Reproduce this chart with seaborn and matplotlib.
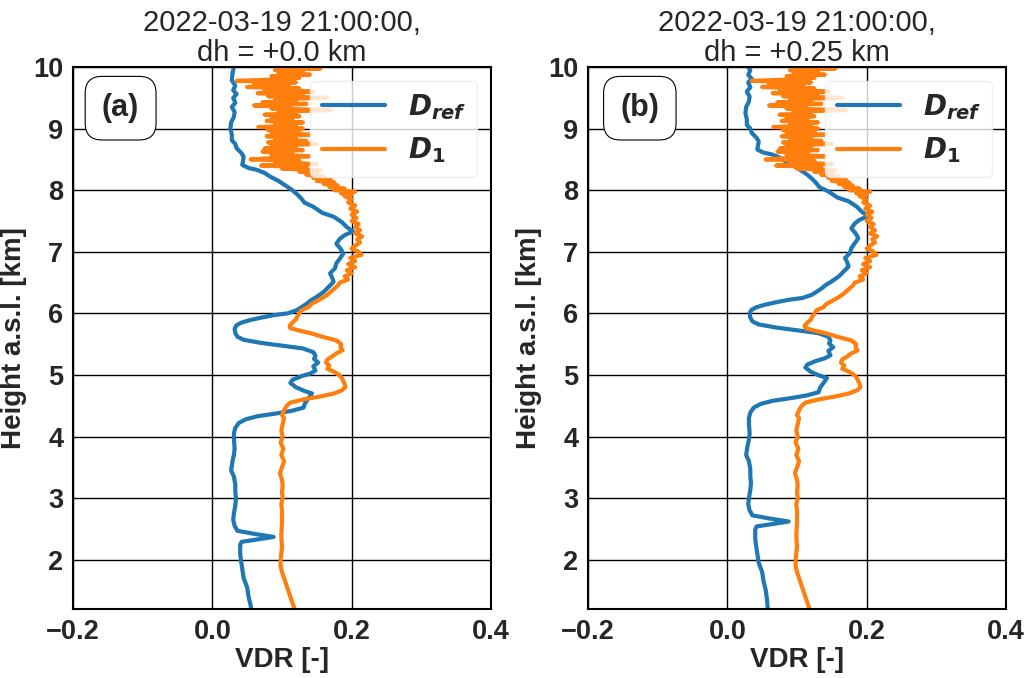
import matplotlib
matplotlib.use("Agg")
import matplotlib.pyplot as plt
import seaborn as sns
import pandas as pd

# reference profile D_ref, heights for dh = 0
dref_height = [10.0, 9.9, 9.78, 9.7, 9.62, 9.56, 9.5, 9.42, 9.35, 9.27, 9.19, 9.1, 9.0,
               8.9, 8.81, 8.75, 8.68, 8.6, 8.54, 8.47, 8.41, 8.36, 8.33, 8.28, 8.22, 8.15,
               8.06, 8.0, 7.93, 7.86, 7.8, 7.73, 7.63, 7.57, 7.48, 7.4, 7.33, 7.27, 7.21,
               7.13, 7.05, 6.97, 6.89, 6.81, 6.73, 6.65, 6.58, 6.51, 6.43, 6.35, 6.27,
               6.2, 6.16, 6.1, 6.05, 6.0, 5.97, 5.93, 5.89, 5.85, 5.81, 5.75, 5.68, 5.62,
               5.57, 5.52, 5.49, 5.43, 5.37, 5.31, 5.26, 5.2, 5.14, 5.07, 5.02, 4.98,
               4.92, 4.87, 4.8, 4.74, 4.7, 4.62, 4.54, 4.47, 4.42, 4.38, 4.33, 4.28,
               4.22, 4.14, 4.05, 3.97, 3.8, 3.7, 3.6, 3.45, 3.35, 3.22, 3.1, 3.0, 2.88,
               2.75, 2.65, 2.55, 2.47, 2.42, 2.37, 2.33, 2.29, 2.24, 2.1, 2.0, 1.85,
               1.7, 1.55, 1.4, 1.26, 1.1, 0.95]
dref_vdr = [0.031, 0.029, 0.028, 0.033, 0.030, 0.035, 0.030, 0.033, 0.028, 0.032, 0.031, 0.027, 0.026,
            0.028, 0.028, 0.033, 0.035, 0.042, 0.045, 0.044, 0.043, 0.052, 0.064, 0.075, 0.083, 0.095,
            0.107, 0.115, 0.122, 0.128, 0.132, 0.145, 0.158, 0.174, 0.186, 0.193, 0.202, 0.19, 0.183,
            0.178, 0.184, 0.188, 0.183, 0.178, 0.176, 0.169, 0.172, 0.174, 0.167, 0.16, 0.15,
            0.14, 0.136, 0.128, 0.121, 0.108, 0.088, 0.07, 0.054, 0.042, 0.035, 0.032, 0.033, 0.036,
            0.045, 0.07, 0.09, 0.13, 0.145, 0.148, 0.146, 0.152, 0.145, 0.148, 0.14, 0.128,
            0.115, 0.112, 0.12, 0.132, 0.143, 0.138, 0.133, 0.131, 0.115, 0.095, 0.065, 0.048,
            0.038, 0.033, 0.031, 0.031, 0.032, 0.031, 0.029, 0.027, 0.031, 0.033, 0.033, 0.034, 0.033,
            0.031, 0.030, 0.032, 0.036, 0.06, 0.088, 0.065, 0.042, 0.040, 0.040, 0.041, 0.043,
            0.045, 0.050, 0.052, 0.055, 0.057, 0.058]

# D_1 profile
d1_height = [10.0, 9.975, 9.95, 9.925, 9.9, 9.875, 9.85, 9.825, 9.8, 9.775, 9.75, 9.725, 9.7,
             9.675, 9.65, 9.625, 9.6, 9.575, 9.55, 9.525, 9.5, 9.475, 9.45, 9.425, 9.4,
             9.375, 9.35, 9.325, 9.3, 9.275, 9.25, 9.225, 9.2, 9.175, 9.15, 9.125, 9.1,
             9.075, 9.05, 9.025, 9.0, 8.975, 8.95, 8.925, 8.9, 8.875, 8.85, 8.825, 8.8,
             8.775, 8.75, 8.725, 8.7, 8.675, 8.65, 8.625, 8.6, 8.575, 8.55, 8.525, 8.5,
             8.475, 8.45, 8.425, 8.4, 8.375, 8.35, 8.325, 8.3, 8.275, 8.25, 8.225, 8.2,
             8.175, 8.15, 8.125, 8.1, 8.075, 8.05, 8.025, 8.0, 7.975, 7.95, 7.925, 7.9,
             7.85, 7.8, 7.75, 7.7, 7.65, 7.6, 7.55, 7.5, 7.45, 7.4, 7.35, 7.3, 7.25, 7.2,
             7.15, 7.1, 7.05, 7.0, 6.95, 6.9, 6.85, 6.8, 6.75, 6.7, 6.65, 6.6, 6.55, 6.5,
             6.45, 6.4, 6.35, 6.3, 6.25, 6.2, 6.15, 6.1, 6.05, 6.0, 5.95, 5.9, 5.85, 5.8,
             5.76, 5.72, 5.68, 5.62, 5.56, 5.5, 5.45, 5.4, 5.35, 5.3, 5.25, 5.2, 5.15, 5.1,
             5.05, 5.0, 4.95, 4.9, 4.85, 4.8, 4.75, 4.7, 4.65, 4.6, 4.55, 4.5, 4.45, 4.4,
             4.35, 4.3, 4.2, 4.1, 4.0, 3.9, 3.8, 3.7, 3.6, 3.5, 3.4, 3.3, 3.2, 3.1, 3.0,
             2.9, 2.8, 2.6, 2.4, 2.2, 2.0, 1.9, 1.8, 1.7, 1.6, 1.5, 1.4, 1.3, 1.2]
d1_vdr = [0.105, 0.155, 0.090, 0.130, 0.095, 0.140, 0.085, 0.125, 0.100, 0.035, 0.120, 0.060, 0.110,
          0.050, 0.125, 0.075, 0.145, 0.065, 0.130, 0.080, 0.165, 0.090, 0.120, 0.072, 0.135,
          0.060, 0.112, 0.085, 0.170, 0.095, 0.120, 0.075, 0.125, 0.085, 0.115, 0.078, 0.130,
          0.090, 0.120, 0.066, 0.130, 0.080, 0.125, 0.085, 0.140, 0.078, 0.120, 0.090, 0.135,
          0.080, 0.150, 0.085, 0.120, 0.075, 0.130, 0.072, 0.115, 0.085, 0.140, 0.095, 0.055,
          0.125, 0.090, 0.150, 0.070, 0.135, 0.100, 0.155, 0.125, 0.150, 0.135, 0.160, 0.145,
          0.170, 0.150, 0.175, 0.160, 0.180, 0.168, 0.190, 0.175, 0.205, 0.185, 0.200, 0.190,
          0.200, 0.195, 0.205, 0.198, 0.208, 0.200, 0.207, 0.200, 0.210, 0.205, 0.212, 0.205, 0.215, 0.208,
          0.212, 0.205, 0.200, 0.210, 0.214, 0.198, 0.205, 0.195, 0.205, 0.193, 0.200, 0.190, 0.195, 0.183,
          0.180, 0.175, 0.170, 0.165, 0.158, 0.150, 0.142, 0.138, 0.128, 0.125, 0.122, 0.120, 0.115, 0.111,
          0.112, 0.125, 0.140, 0.158, 0.178, 0.185, 0.184, 0.187, 0.178, 0.172, 0.165, 0.163, 0.168, 0.165,
          0.175, 0.182, 0.186, 0.188, 0.190, 0.191, 0.186, 0.175, 0.155, 0.130, 0.112, 0.107, 0.104, 0.102,
          0.100, 0.103, 0.101, 0.099, 0.101, 0.098, 0.102, 0.099, 0.103, 0.100, 0.097, 0.100, 0.101, 0.100, 0.101,
          0.099, 0.100, 0.100, 0.099, 0.100, 0.098, 0.098, 0.100, 0.103, 0.106, 0.109, 0.112, 0.115, 0.118]

dh_values = [0.0, 0.25]
dh_labels = ["+0.0", "+0.25"]
panel_tags = ["(a)", "(b)"]
tag_x = [0.114, 0.124]
time_label = "2022-03-19 21:00:00"
series_labels = [r"$D_{ref}$", r"$D_1$"]

sns.set_style("white")
plt.rcParams["font.family"] = ["Liberation Sans", "DejaVu Sans"]
# bold italic math for the legend entries
plt.rcParams["mathtext.fontset"] = "custom"
plt.rcParams["mathtext.it"] = "DejaVu Sans:italic:bold"
plt.rcParams["mathtext.rm"] = "DejaVu Sans:bold"
plt.rcParams["mathtext.bf"] = "DejaVu Sans:bold"

fig = plt.figure(figsize=(10.35, 6.78), dpi=100)
axes = [fig.add_axes([0.0705, 0.1018, 0.4039, 0.7994]),
        fig.add_axes([0.5681, 0.1018, 0.4039, 0.7994])]

for ax, dh, dh_lab, tag, tx in zip(axes, dh_values, dh_labels, panel_tags, tag_x):
    df = pd.concat([
        pd.DataFrame({"height": [h + dh for h in dref_height], "vdr": dref_vdr, "profile": "ref"}),
        pd.DataFrame({"height": d1_height, "vdr": d1_vdr, "profile": "d1"}),
    ])
    sns.lineplot(data=df, x="vdr", y="height", hue="profile", sort=False,
                 estimator=None, palette=["#1f77b4", "#ff7f0e"], lw=3,
                 legend=False, ax=ax)

    ax.set_xlim(-0.2, 0.4)
    ax.set_ylim(1.2, 10)
    ax.set_xticks([-0.2, 0.0, 0.2, 0.4])
    ax.set_yticks([2, 3, 4, 5, 6, 7, 8, 9, 10])
    ax.grid(True, color="k", lw=1)
    for sp in ax.spines.values():
        sp.set_color("k")
        sp.set_linewidth(1.5)
    ax.tick_params(labelsize=19.5)
    for lab in ax.get_xticklabels() + ax.get_yticklabels():
        lab.set_fontweight("bold")

    ax.set_xlabel("VDR [-]", fontsize=20, fontweight="bold", labelpad=2)
    ax.set_ylabel("Height a.s.l. [km]", fontsize=20, fontweight="bold", labelpad=4)
    ax.set_title(f"{time_label},\ndh = {dh_lab} km", fontsize=21, linespacing=1.12, pad=4)

    ax.legend(ax.lines[:2], series_labels, loc="upper right", fontsize=20,
              handlelength=2.3, framealpha=0.8, edgecolor="0.92")

    ax.text(tx, 0.924, tag, transform=ax.transAxes, ha="center", va="center",
            fontsize=22, fontweight="bold",
            bbox=dict(boxstyle="round,pad=0.55", fc="white", ec="k", lw=0.8))

fig.savefig("out.png", dpi=100)
